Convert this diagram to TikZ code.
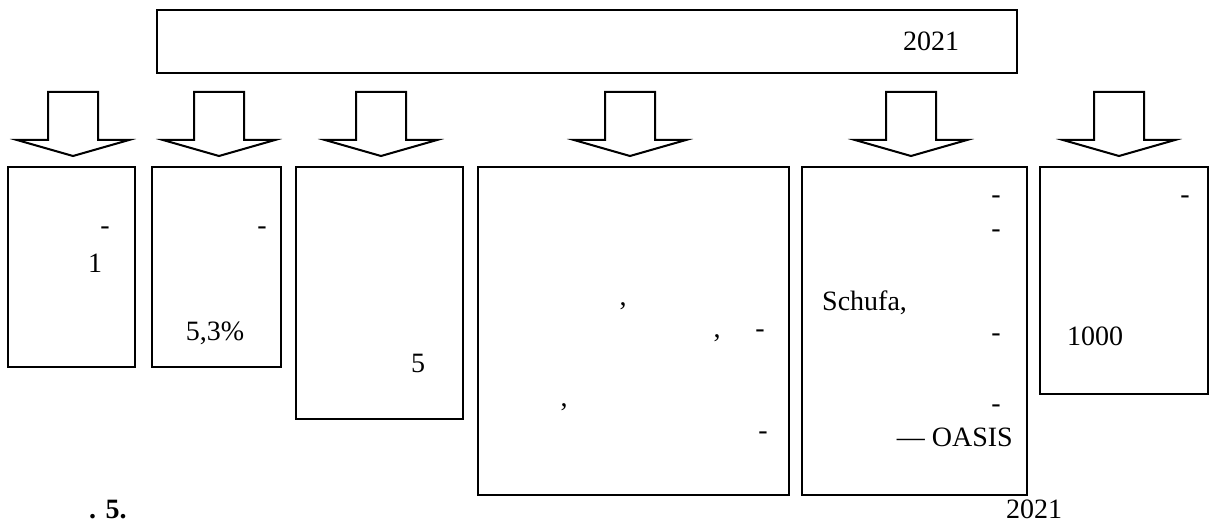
\documentclass[tikz,border=0pt]{standalone}
\usepackage{fontspec}
\setmainfont{Liberation Serif}

\tikzset{
  blk/.style={draw, line width=2.2pt, inner sep=0pt},
  lbl/.style={inner sep=0pt, font=\fontsize{28}{32}\selectfont},
}

\begin{document}
\begin{tikzpicture}[x=1pt, y=-1pt]
    \useasboundingbox (0,0) rectangle (1211,524);
    % top box
    \draw[blk] (157,10) rectangle (1017,73);
    \node[lbl, anchor=base] (year) at (931,51) {2021};
    % block arrows
    \foreach \c in {73,219,381,630,911,1119}
        \draw[line width=2pt, line join=miter]
            (\c-25,92) -- (\c+25,92) -- (\c+25,140) -- (\c+56,140) -- (\c,156)
            -- (\c-56,140) -- (\c-25,140) -- cycle;
    % lower boxes
    \draw[blk] (8,167) rectangle (135,367);
    \draw[blk] (152,167) rectangle (281,367);
    \draw[blk] (296,167) rectangle (463,419);
    \draw[blk] (478,167) rectangle (789,495);
    \draw[blk] (802,167) rectangle (1027,495);
    \draw[blk] (1040,167) rectangle (1208,394);
    % texts
    \node[lbl, anchor=base] (a1) at (105,234) {-};
    \node[lbl, anchor=base] (a2) at (95,272) {1};
    \node[lbl, anchor=base] (b1) at (262,234) {-};
    \node[lbl, anchor=base] (b2) at (215,340) {5,3\%};
    \node[lbl, anchor=base] (c1) at (418,372) {5};
    \node[lbl, anchor=base] (d1) at (623,305) {,};
    \node[lbl, anchor=base] (d2) at (717,337) {,};
    \node[lbl, anchor=base] (d3) at (760,337) {-};
    \node[lbl, anchor=base] (d4) at (564,406) {,};
    \node[lbl, anchor=base] (d5) at (763,439) {-};
    \node[lbl, anchor=base] (e1) at (996,204) {-};
    \node[lbl, anchor=base] (e2) at (996,237) {-};
    \node[lbl, anchor=base west] (e3) at (822,310) {Schufa,};
    \node[lbl, anchor=base] (e4) at (996,341) {-};
    \node[lbl, anchor=base] (e5) at (996,412) {-};
    \node[lbl, anchor=base east] (e6) at (1013,446) {— OASIS};
    \node[lbl, anchor=base] (f1) at (1185,204) {-};
    \node[lbl, anchor=base] (f2) at (1095,345) {1000};
    % caption
    \node[lbl, anchor=base west, font=\fontsize{28}{32}\selectfont\bfseries] (fig) at (89,518) {. 5.};
    \node[lbl, anchor=base] (cap) at (1034,518) {2021};
\end{tikzpicture}
\end{document}
